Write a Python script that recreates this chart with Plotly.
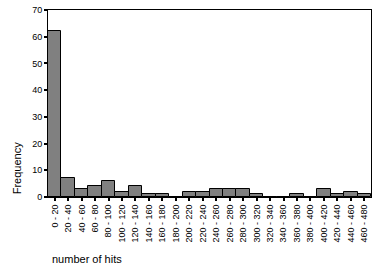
import plotly.graph_objects as go

bins = ["0 - 20", "20 - 40", "40 - 60", "60 - 80", "80 - 100", "100 - 120", "120 - 140",
        "140 - 160", "160 - 180", "180 - 200", "200 - 220", "220 - 240", "240 - 260",
        "260 - 280", "280 - 300", "300 - 320", "320 - 340", "340 - 360", "360 - 380",
        "380 - 400", "400 - 420", "420 - 440", "440 - 460", "460 - 480"]
frequency = [62, 7, 3, 4, 6, 2, 4, 1, 1, 0, 2, 2, 3, 3, 3, 1, 0, 0, 1, 0, 3, 1, 2, 1]
y_ticks = [0, 10, 20, 30, 40, 50, 60, 70]

fig = go.Figure(go.Bar(
    x=bins, y=frequency,
    marker=dict(color="#808080", line=dict(color="black", width=1)),
    width=1.0,
))

font = "Liberation Sans, Arial, sans-serif"
fig.update_layout(
    width=377, height=273,
    margin=dict(l=48, r=5, t=8, b=76),
    paper_bgcolor="white", plot_bgcolor="white",
    showlegend=False,
    bargap=0,
    font=dict(family=font, size=9, color="black"),
    xaxis=dict(
        type="category", tickangle=-90, showgrid=False,
        showline=True, linecolor="black", linewidth=1, mirror=True,
        ticks="outside", ticklen=3, tickcolor="black", tickwidth=2,
        tickfont=dict(size=9),
    ),
    yaxis=dict(
        range=[0, 70], tickvals=y_ticks, showgrid=False,
        showline=True, linecolor="black", linewidth=1, mirror=True,
        ticks="outside", ticklen=3, tickcolor="black", tickwidth=2,
        tickfont=dict(size=9), zeroline=False,
    ),
    annotations=[
        dict(text="number of hits", xref="paper", yref="paper", x=0.005, y=-0.33,
             xanchor="left", yanchor="middle", showarrow=False,
             font=dict(size=11, family=font)),
        dict(text="Frequency", xref="paper", yref="paper", x=-0.095, y=0.155,
             xanchor="center", yanchor="middle", textangle=-90, showarrow=False,
             font=dict(size=11, family=font)),
    ],
)

fig.write_html("out.html")
